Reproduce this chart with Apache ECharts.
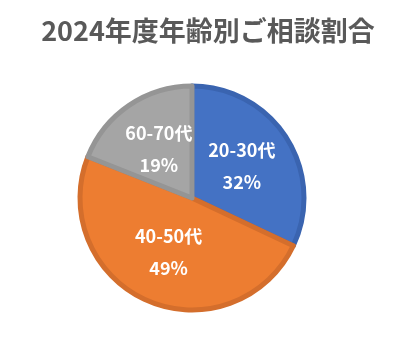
<!DOCTYPE html>
<html>
<head>
	<meta charset="utf-8">
	<title>2024年度年齢別ご相談割合</title>
	<script src="https://cdn.jsdelivr.net/npm/echarts@6/dist/echarts.min.js"></script>
</head>
<body style="margin:0">
<div id="chart" style="width:416px;height:353px"></div>
<script>
	const categories = ['20-30代', '40-50代', '60-70代'];
	const values = [32, 49, 19];
	const fills = ['#4472C4', '#ED7D31', '#A5A5A5'];
	const borders = ['#3A64B0', '#D46E2C', '#959595'];
	const font = 'Noto Sans CJK JP';

	let myChart = echarts.init(document.getElementById('chart'));
	myChart.setOption({
		backgroundColor: '#fff',
		animation: false,
		title: {
			text: '2024年度年齢別ご相談割合',
			left: 'center',
			top: 12,
			textStyle: { color: '#595959', fontSize: 27, fontWeight: 'bold', fontFamily: font }
		},
		series: [{
			type: 'pie',
			center: [192, 198],
			radius: 112,
			startAngle: 90,
			clockwise: true,
			data: categories.map((name, i) => ({
				name: name,
				value: values[i],
				itemStyle: { color: fills[i], borderColor: borders[i], borderWidth: 5 }
			})),
			label: {
				position: 'inside',
				formatter: '{b}\n{d}%',
				color: '#fff',
				fontSize: 18,
				fontWeight: 'bold',
				lineHeight: 32,
				fontFamily: font
			},
			labelLine: { show: false }
		}]
	});
</script>
</body>
</html>
